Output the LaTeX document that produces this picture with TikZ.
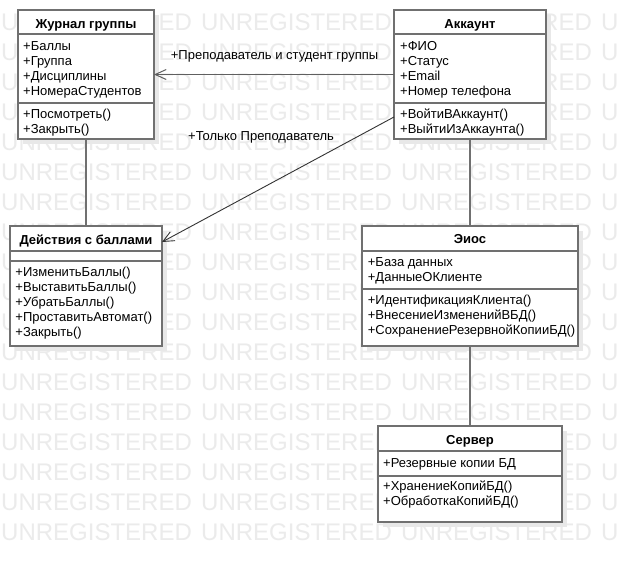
\documentclass[tikz,border=0pt]{standalone}
\usepackage{fontspec}
\setmainfont{Liberation Sans}
\usetikzlibrary{arrows.meta,shadows}
\definecolor{bordc}{HTML}{707070}
\definecolor{wmc}{HTML}{EBEBEB}
\begin{document}
\begin{tikzpicture}[x=1pt,y=-1pt,
  cls/.style={draw=bordc, line width=1.6pt, fill=white, inner sep=0pt, outer sep=0pt,
    drop shadow={shadow xshift=5pt, shadow yshift=-5pt, fill=black!9, opacity=1}},
  txt/.style={anchor=base west, inner sep=0pt, font=\fontsize{13}{15}\selectfont},
  ttl/.style={anchor=base, inner sep=0pt, font=\fontsize{13}{15}\selectfont\bfseries},
  wm/.style={anchor=west, inner sep=0pt, font=\fontsize{24}{24}\selectfont, text=wmc},
  sep/.style={draw=bordc, line width=1.3pt},
  conn/.style={draw=bordc, line width=1.8pt},
  assoc/.style={draw=bordc!85!black, line width=1.4pt, -{Straight Barb[length=11pt,width=10pt,line width=1pt]}},
  assocthin/.style={draw=black!80, line width=0.9pt, -{Straight Barb[length=11pt,width=10pt,line width=0.9pt]}}
]
\useasboundingbox (0,0) rectangle (618,562);
\fill[white] (0,0) rectangle (618,562);
% watermark
\begin{scope}
\clip (0,0) rectangle (618,562);
\foreach \r in {0,...,17} \foreach \c in {0,...,3}
  \node[wm] (w\r-\c) at (1+200*\c, 22+30*\r) {UNREGISTERED};
\end{scope}

% class boxes
\node[cls, minimum width=136pt, minimum height=129pt] (jg) at (86,74.5) {};
\node[cls, minimum width=152pt, minimum height=129pt] (acc) at (470,74.5) {};
\node[cls, minimum width=152pt, minimum height=120pt] (dz) at (86,286) {};
\node[cls, minimum width=216pt, minimum height=120pt] (eios) at (470,286) {};
\node[cls, minimum width=184pt, minimum height=96pt] (srv) at (470,474) {};

% compartments
\draw[sep] (jg.west |- 0,34) -- (jg.east |- 0,34);
\draw[sep] (jg.west |- 0,103) -- (jg.east |- 0,103);
\draw[sep] (acc.west |- 0,34) -- (acc.east |- 0,34);
\draw[sep] (acc.west |- 0,103) -- (acc.east |- 0,103);
\draw[sep] (dz.west |- 0,251) -- (dz.east |- 0,251);
\draw[sep] (dz.west |- 0,261) -- (dz.east |- 0,261);
\draw[sep] (eios.west |- 0,251) -- (eios.east |- 0,251);
\draw[sep] (eios.west |- 0,289) -- (eios.east |- 0,289);
\draw[sep] (srv.west |- 0,451) -- (srv.east |- 0,451);
\draw[sep] (srv.west |- 0,476) -- (srv.east |- 0,476);

% titles
\node[ttl] (jgt) at (86,28) {Журнал группы};
\node[ttl] (acct) at (470,28) {Аккаунт};
\node[ttl] (dzt) at (86,244) {Действия с баллами};
\node[ttl] (eiost) at (470,243.5) {Эиос};
\node[ttl] (srvt) at (470,444) {Сервер};

% members
\foreach [count=\i] \t in {+Баллы,+Группа,+Дисциплины,+НомераСтудентов}
  \node[txt] (jga\i) at (23,35+15*\i) {\t};
\foreach [count=\i] \t in {+Посмотреть(),+Закрыть()}
  \node[txt] (jgm\i) at (23,103+15*\i) {\t};
\foreach [count=\i] \t in {+ФИО,+Статус,+Email,+Номер телефона}
  \node[txt] (acca\i) at (400,35+15*\i) {\t};
\foreach [count=\i] \t in {+ВойтиВАккаунт(),+ВыйтиИзАккаунта()}
  \node[txt] (accm\i) at (400,103+15*\i) {\t};
\foreach [count=\i] \t in {+ИзменитьБаллы(),+ВыставитьБаллы(),+УбратьБаллы(),+ПроставитьАвтомат(),+Закрыть()}
  \node[txt] (dzm\i) at (15.3,261+15*\i) {\t};
\foreach [count=\i] \t in {+База данных,+ДанныеОКлиенте}
  \node[txt] (eiosa\i) at (367.7,251+15*\i) {\t};
\foreach [count=\i] \t in {+ИдентификацияКлиента(),+ВнесениеИзмененийВБД(),+СохранениеРезервнойКопииБД()}
  \node[txt] (eiosm\i) at (367.7,289+15*\i) {\t};
\foreach [count=\i] \t in {+Резервные копии БД}
  \node[txt] (srva\i) at (383,452+15*\i) {\t};
\foreach [count=\i] \t in {+ХранениеКопийБД(),+ОбработкаКопийБД()}
  \node[txt] (srvm\i) at (383,475+15*\i) {\t};

% connectors
\draw[conn] (jg.south) -- (dz.north);
\draw[conn] (acc.south) -- (eios.north);
\draw[conn] (eios.south) -- (srv.north);
\draw[assoc] (acc.west) -- (jg.east);
\coordinate (p1) at ([yshift=22pt]acc.south west);
\coordinate (p2) at ([yshift=-16pt]dz.north east);
\draw[assocthin] (p1) -- (p2);

% labels
\node[txt] (l1) at (170.7,59) {+Преподаватель и студент группы};
\node[txt] (l2) at (188,140) {+Только Преподаватель};
\end{tikzpicture}
\end{document}
